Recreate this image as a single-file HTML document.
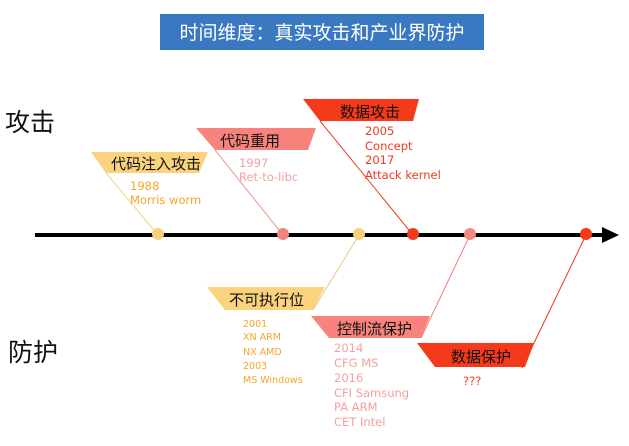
<!DOCTYPE html>
<html><head><meta charset="utf-8"><style>
body{margin:0;background:#fff;}
svg{display:block;}
text{font-family:"DejaVu Sans","Noto Sans CJK SC",sans-serif;}
.cn{font-family:"Liberation Sans","Noto Sans CJK SC",sans-serif;}
</style></head><body>
<svg width="629" height="446" viewBox="0 0 629 446">
<rect x="160" y="14" width="324" height="36" fill="#3a78c2"/>
<text x="322" y="39" text-anchor="middle" font-size="19" fill="#fff" class="cn">时间维度：真实攻击和产业界防护</text>
<text x="5" y="131" font-size="25" fill="#111" class="cn">攻击</text>
<text x="8" y="361" font-size="25" fill="#111" class="cn">防护</text>

<line x1="106" y1="173" x2="158" y2="235" stroke="#f3d28a" stroke-width="1"/>
<line x1="215" y1="150" x2="283" y2="235" stroke="#f08a84" stroke-width="1"/>
<line x1="320" y1="121" x2="413" y2="235" stroke="#f0391e" stroke-width="1"/>
<line x1="313" y1="310" x2="359" y2="235" stroke="#e8c98a" stroke-width="1"/>
<line x1="421" y1="338" x2="470" y2="235" stroke="#ef7f7a" stroke-width="1"/>
<line x1="522" y1="368" x2="586" y2="235" stroke="#f0391e" stroke-width="1"/>

<line x1="35" y1="235" x2="606" y2="235" stroke="#000" stroke-width="4"/>
<polygon points="602,227 619,235 602,243" fill="#000"/>
<circle cx="158" cy="234" r="6" fill="#f9d07c"/>
<circle cx="283" cy="234" r="6" fill="#f08580"/>
<circle cx="359" cy="234" r="6" fill="#f9d07c"/>
<circle cx="413" cy="234" r="6" fill="#f33a1c"/>
<circle cx="470" cy="234" r="6" fill="#f08a85"/>
<circle cx="586" cy="234" r="6" fill="#f33a1c"/>

<polygon points="91,152 208,152 199,173 106,173" fill="#fbd27e"/>
<text x="111" y="169" font-size="15" fill="#111" class="cn">代码注入攻击</text>
<text x="130" y="190" font-size="11.5" fill="#f5a42c">1988</text>
<text x="130" y="204" font-size="11.5" fill="#f5a42c">Morris worm</text>

<polygon points="196,128 316,128 308,150 215,150" fill="#f7837c"/>
<text x="220" y="146" font-size="15" fill="#111" class="cn">代码重用</text>
<text x="239" y="167" font-size="11.5" fill="#f5a09c">1997</text>
<text x="239" y="181" font-size="11.5" fill="#f5a09c">Ret-to-libc</text>

<polygon points="303,99 419,99 413,121 320,121" fill="#f5391b"/>
<text x="340" y="117" font-size="15" fill="#111" class="cn">数据攻击</text>
<text x="365" y="135" font-size="11.5" fill="#ef3a1f">2005</text>
<text x="365" y="150" font-size="11.5" fill="#ef3a1f">Concept</text>
<text x="365" y="164" font-size="11.5" fill="#ef3a1f">2017</text>
<text x="365" y="179" font-size="11.5" fill="#ef3a1f">Attack kernel</text>

<polygon points="207,287 325,287 313,310 225,310" fill="#fbd27e"/>
<text x="229" y="305" font-size="15" fill="#111" class="cn">不可执行位</text>
<g font-size="9.5" fill="#f5a42c">
<text x="243" y="327">2001</text>
<text x="243" y="340">XN ARM</text>
<text x="243" y="355">NX AMD</text>
<text x="243" y="369">2003</text>
<text x="243" y="383">MS Windows</text>
</g>

<polygon points="311,316 430,316 421,338 329,338" fill="#f7837c"/>
<text x="337" y="334" font-size="15" fill="#111" class="cn">控制流保护</text>
<g font-size="11.5" fill="#f5a09c">
<text x="334" y="352">2014</text>
<text x="334" y="367">CFG MS</text>
<text x="334" y="382">2016</text>
<text x="334" y="397">CFI Samsung</text>
<text x="334" y="411">PA ARM</text>
<text x="334" y="426">CET Intel</text>
</g>

<polygon points="417,343 534,343 525,367 435,367" fill="#f5391b"/>
<text x="451" y="362" font-size="15" fill="#111" class="cn">数据保护</text>
<text x="463" y="385" font-size="11.5" fill="#ef3a1f">???</text>
</svg>
</body></html>
